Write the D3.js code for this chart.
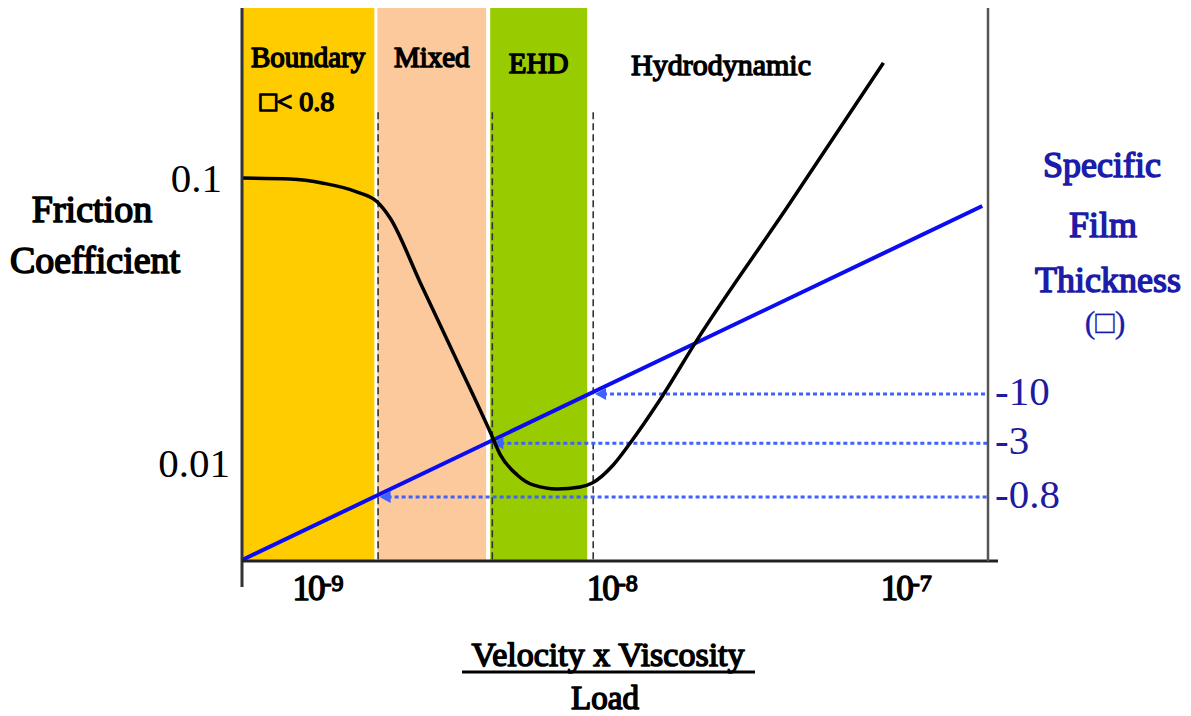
<!DOCTYPE html>
<html>
<head>
<meta charset="utf-8">
<script src="https://cdn.jsdelivr.net/npm/d3@7"></script>
<style>
    body { margin: 0; background: #fff; }
    svg { display: block; }
    text { font-family: "Liberation Serif", "Times New Roman", serif; }
</style>
</head>
<body>
<svg id="chart"></svg>
<script>
// lubrication regimes along x = velocity * viscosity / load
const regimes = ["Boundary", "Mixed", "EHD"];
const regimeStart = [5.96e-10, 1.72e-9, 4.16e-9];
const regimeEnd = [1.68e-9, 4.03e-9, 8.89e-9];
const regimeColors = ["#ffcc00", "#fbc99b", "#99cc00"];

// dashed transition lines
const transitionX = [1.73e-9, 4.23e-9, 9.32e-9];
const transitionTop = 0.17;

// Stribeck curve (friction coefficient)
const frictionX = [5.96e-10, 8.69e-10, 1.125e-9, 1.47e-9, 1.72e-9, 1.9e-9, 2.4e-9, 3.21e-9, 4.16e-9, 4.5e-9,
    5.14e-9, 5.82e-9, 7.03e-9, 8.41e-9, 9.25e-9, 1.09e-8, 1.245e-8, 1.57e-8, 2.1e-8, 4.26e-8, 9.04e-8];
const frictionY = [0.1, 0.0992, 0.0959, 0.0893, 0.0824, 0.0724, 0.0432, 0.0228, 0.01285, 0.0107,
    0.00908, 0.00838, 0.00811, 0.00824, 0.00851, 0.00984, 0.01175, 0.01663, 0.027, 0.0791, 0.2535];

// specific film thickness (lambda) line
const filmX = [5.96e-10, 1.96e-7];
const filmLambda = [0.171, 1005];

const xTicks = [1e-9, 1e-8, 1e-7];
const xTickExp = ["-9", "-8", "-7"];
const frictionTicks = [0.1, 0.01];
const lambdaTicks = [0.8, 3, 10];

const width = 1191, height = 716;
const svg = d3.select("#chart").attr("width", width).attr("height", height);

const x = d3.scaleLog().domain([5.96e-10, 2.05e-7]).range([242, 988]);
const y = d3.scaleLog().domain([0.00453, 0.395]).range([561, 8]);
const lam = d3.scaleLog().domain([0.167, 1.29e5]).range([561, 8]);

// serif bold face is not installed, so thicken the regular one
const heavy = (sel, color, w = 1) => sel.attr("fill", color).attr("stroke", color)
    .attr("stroke-width", w).attr("stroke-linejoin", "round");

// bands
svg.append("g").selectAll("rect")
    .data(regimes)
    .enter()
    .append("rect")
    .attr("x", (d, i) => x(regimeStart[i]))
    .attr("width", (d, i) => x(regimeEnd[i]) - x(regimeStart[i]))
    .attr("y", y.range()[1])
    .attr("height", y.range()[0] - y.range()[1])
    .attr("fill", (d, i) => regimeColors[i]);

// dashed transitions
svg.append("g").selectAll("line")
    .data(transitionX)
    .enter()
    .append("line")
    .attr("x1", d => x(d)).attr("x2", d => x(d))
    .attr("y1", y(transitionTop)).attr("y2", y.range()[0])
    .attr("stroke", "#333")
    .attr("stroke-width", 1.6)
    .attr("stroke-dasharray", "7,4");

// regime labels
const labelY = [67, 67, 73];
svg.append("g").selectAll("text")
    .data(regimes)
    .enter()
    .append("text")
    .attr("x", (d, i) => (x(regimeStart[i]) + x(regimeEnd[i])) / 2)
    .attr("y", (d, i) => labelY[i])
    .attr("text-anchor", "middle")
    .attr("font-size", 29)
    .call(heavy, "#000", 1.5)
    .text(d => d);

svg.append("text").attr("x", 297).attr("y", 111).attr("text-anchor", "middle")
    .attr("font-size", 28).call(heavy, "#000", 1.5).text("\u25A1< 0.8");
svg.append("text").attr("x", 721).attr("y", 75).attr("text-anchor", "middle")
    .attr("font-size", 30).call(heavy, "#000", 1.4).text("Hydrodynamic");

// film thickness line
const filmLine = d3.line().x(d => x(d[0])).y(d => lam(d[1]));
svg.append("path")
    .datum(filmX.map((d, i) => [d, filmLambda[i]]))
    .attr("d", filmLine)
    .attr("fill", "none")
    .attr("stroke", "#0c0cf0")
    .attr("stroke-width", 4);

// dotted arrows from the right axis to the film line
const lx0 = Math.log10(filmX[0]), lx1 = Math.log10(filmX[1]);
const ll0 = Math.log10(filmLambda[0]), ll1 = Math.log10(filmLambda[1]);
const hitX = l => Math.pow(10, lx0 + (Math.log10(l) - ll0) / (ll1 - ll0) * (lx1 - lx0));

const arrows = svg.append("g").selectAll("g")
    .data(lambdaTicks)
    .enter()
    .append("g");
arrows.append("line")
    .attr("x1", d => x(hitX(d)) + 14).attr("x2", x.range()[1])
    .attr("y1", d => lam(d)).attr("y2", d => lam(d))
    .attr("stroke", "#3f62ff")
    .attr("stroke-width", 3)
    .attr("stroke-dasharray", "4,3");
arrows.append("path")
    .attr("d", d => {
        const tx = x(hitX(d)) + 6, ty = lam(d);
        return `M${tx},${ty}L${tx + 11},${ty - 6}L${tx + 11},${ty + 6}Z`;
    })
    .attr("fill", "#3f62ff");

// friction curve
const fricLine = d3.line().x(d => x(d[0])).y(d => y(d[1])).curve(d3.curveMonotoneX);
svg.append("path")
    .datum(frictionX.map((d, i) => [d, frictionY[i]]))
    .attr("d", fricLine)
    .attr("fill", "none")
    .attr("stroke", "#000")
    .attr("stroke-width", 3.5)
    .attr("stroke-linejoin", "round");

// axes lines
svg.append("line").attr("x1", 242).attr("x2", 242).attr("y1", 8).attr("y2", 587)
    .attr("stroke", "#333").attr("stroke-width", 3);
svg.append("line").attr("x1", 242).attr("x2", 998).attr("y1", 561).attr("y2", 561)
    .attr("stroke", "#222").attr("stroke-width", 3);
svg.append("line").attr("x1", 988).attr("x2", 988).attr("y1", 8).attr("y2", 561)
    .attr("stroke", "#555").attr("stroke-width", 2.5);

// bottom axis labels
const xAxis = d3.axisBottom(x).tickValues(xTicks).tickSize(0).tickFormat("");
const gx = svg.append("g").attr("transform", "translate(0,561)").call(xAxis);
gx.select(".domain").remove();
gx.selectAll(".tick text")
    .attr("y", 39).attr("dy", null).attr("x", -16)
    .attr("text-anchor", "start")
    .attr("font-size", 35)
    .call(heavy, "#000", 1.4)
    .each(function (d, i) {
        const t = d3.select(this);
        t.append("tspan").attr("letter-spacing", -2).text("10");
        t.append("tspan").attr("font-size", 24).attr("dy", -9).text(xTickExp[i]);
    });

// left axis labels
const yAxis = d3.axisLeft(y).tickValues(frictionTicks).tickSize(0).tickFormat(d => d === 0.1 ? "0.1" : "0.01");
const gy = svg.append("g").attr("transform", "translate(242,0)").call(yAxis);
gy.select(".domain").remove();
gy.selectAll(".tick text")
    .attr("x", d => d === 0.1 ? -20 : -12)
    .attr("dy", "0.34em")
    .attr("font-size", 41).attr("fill", "#000");

// right axis labels
const lAxis = d3.axisRight(lam).tickValues(lambdaTicks).tickSize(0).tickPadding(7).tickFormat(d => "-" + d);
const gl = svg.append("g").attr("transform", "translate(988,0)").call(lAxis);
gl.select(".domain").remove();
gl.selectAll(".tick text")
    .attr("dy", "0.26em")
    .attr("font-size", 41).attr("fill", "#1c1ca0");

// axis titles
const title = (tx, ty, txt, size, color, w) => svg.append("text")
    .attr("x", tx).attr("y", ty).attr("text-anchor", "middle")
    .attr("font-size", size).call(heavy, color, w).text(txt);

title(92, 222, "Friction", 38, "#000", 1.6);
title(95, 273, "Coefficient", 38, "#000", 1.6);

title(1102, 177, "Specific", 36, "#1c1ca8", 1.5);
title(1103, 237, "Film", 36, "#1c1ca8", 1.5);
title(1108, 292, "Thickness", 36, "#1c1ca8", 1.5);
title(1105, 333, "(\u25A1)", 32, "#1c1ca8", 0.3);

title(608, 666, "Velocity x Viscosity", 34, "#000", 1.5);
svg.append("line").attr("x1", 462).attr("x2", 755).attr("y1", 672).attr("y2", 672)
    .attr("stroke", "#000").attr("stroke-width", 3);
title(605, 709, "Load", 33, "#000", 1.5);
</script>
</body>
</html>
